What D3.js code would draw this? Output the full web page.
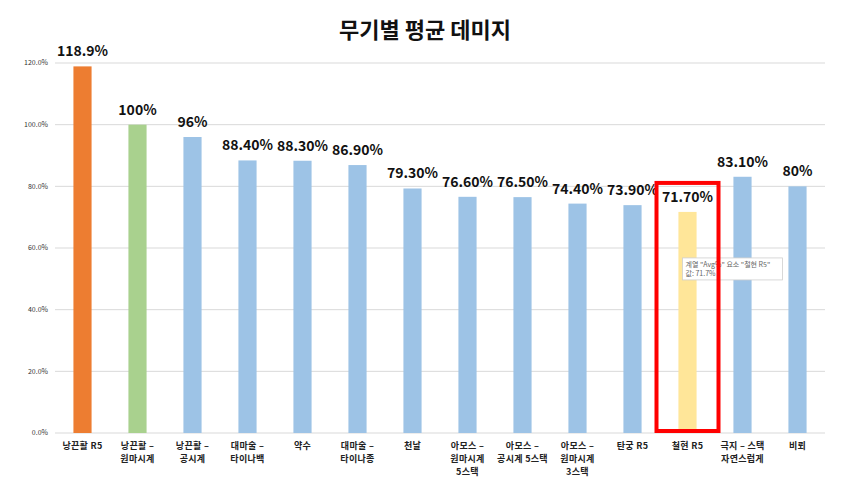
<!DOCTYPE html>
<html>
<head>
<meta charset="utf-8">
<script src="https://cdn.jsdelivr.net/npm/d3@7"></script>
<style>
  body { margin: 0; background: #fff; }
  svg { font-family: "Noto Sans CJK KR", "Noto Sans", sans-serif; }
</style>
</head>
<body>
<svg width="850" height="483"></svg>
<script>
// Data
const categories = [
    "낭끈활 R5", "낭끈활 –\n원마시계", "낭끈활 –\n공시계", "대마술 –\n타이나백", "약수",
    "대마술 –\n타이나종", "천날", "아모스 –\n원마시계\n5스택", "아모스 –\n공시계 5스택",
    "아모스 –\n원마시계\n3스택", "탄궁 R5", "철현 R5", "극지 – 스택\n자연스럽게", "비뢰"
];
const values = [118.9, 100, 96, 88.4, 88.3, 86.9, 79.3, 76.6, 76.5, 74.4, 73.9, 71.7, 83.1, 80];
const valueLabels = ["118.9%", "100%", "96%", "88.40%", "88.30%", "86.90%", "79.30%", "76.60%",
    "76.50%", "74.40%", "73.90%", "71.70%", "83.10%", "80%"];
const barColors = ["#ED7D31", "#A9D18E", "#9DC3E6", "#9DC3E6", "#9DC3E6", "#9DC3E6", "#9DC3E6",
    "#9DC3E6", "#9DC3E6", "#9DC3E6", "#9DC3E6", "#FFE699", "#9DC3E6", "#9DC3E6"];
const yTicks = [0, 20, 40, 60, 80, 100, 120];

const margin = { top: 63, right: 25, bottom: 50, left: 55 },
    width = 850 - margin.left - margin.right,
    height = 483 - margin.top - margin.bottom;

const svg = d3.select("svg");
const g = svg.append("g")
    .attr("transform", `translate(${margin.left},${margin.top})`);

// Scales
const x = d3.scaleBand()
    .domain(categories)
    .range([0, width])
    .paddingInner(0.67)
    .paddingOuter(0.335);

const y = d3.scaleLinear()
    .domain([0, 120])
    .range([height, 0]);

// Gridlines
g.selectAll(".grid")
    .data(yTicks)
    .join("line")
    .attr("x1", 0)
    .attr("x2", width)
    .attr("y1", d => y(d))
    .attr("y2", d => y(d))
    .attr("stroke", "#d9d9d9")
    .attr("stroke-width", 1);

// Y tick labels
g.selectAll(".ytick")
    .data(yTicks)
    .join("text")
    .attr("x", -7)
    .attr("y", d => y(d))
    .attr("dy", "0.35em")
    .attr("text-anchor", "end")
    .style("font-size", "7px")
    .style("fill", "#333")
    .text(d => d.toFixed(1) + "%");

// Bars
g.selectAll(".bar")
    .data(values)
    .join("rect")
    .attr("x", (d, i) => x(categories[i]))
    .attr("y", d => y(d))
    .attr("width", x.bandwidth())
    .attr("height", d => height - y(d))
    .attr("fill", (d, i) => barColors[i]);

// Value labels
g.selectAll(".vlabel")
    .data(values)
    .join("text")
    .attr("x", (d, i) => x(categories[i]) + x.bandwidth() / 2)
    .attr("y", d => y(d) - 10)
    .attr("text-anchor", "middle")
    .style("font-size", "14px")
    .style("font-weight", "bold")
    .style("fill", "#111")
    .text((d, i) => valueLabels[i]);

// Category labels, one text per line
const catLines = [];
categories.forEach(c => {
    c.split("\n").forEach((t, j) => catLines.push({ cat: c, line: t, j: j }));
});

g.selectAll(".cat")
    .data(catLines)
    .join("text")
    .attr("x", d => x(d.cat) + x.bandwidth() / 2)
    .attr("y", d => height + 16 + d.j * 13)
    .attr("text-anchor", "middle")
    .style("font-size", "9px")
    .style("letter-spacing", "0.3px")
    .style("font-weight", "bold")
    .style("fill", "#222")
    .text(d => d.line);

// Title
svg.append("text")
    .attr("x", 425)
    .attr("y", 38)
    .attr("text-anchor", "middle")
    .style("font-size", "22px")
    .style("font-weight", "bold")
    .style("fill", "#111")
    .text("무기별 평균 데미지");

// Tooltip on the highlighted bar
const hi = categories[11];
const tx = x(hi) + x.bandwidth() / 2 - 5;
const tip = g.append("g")
    .attr("transform", `translate(${tx},${y(71.7) + 46})`);
tip.append("rect")
    .attr("width", 100)
    .attr("height", 22)
    .attr("fill", "#fff")
    .attr("stroke", "#cfcfcf")
    .attr("stroke-width", 0.8);
tip.append("text")
    .attr("x", 3).attr("y", 9)
    .style("font-size", "7px").style("fill", "#666")
    .text('계열 "Avg%" 요소 "철현 R5"');
tip.append("text")
    .attr("x", 3).attr("y", 18)
    .style("font-size", "7px").style("fill", "#666")
    .text("값: 71.7%");

// Red highlight box
const bx = x(hi) + x.bandwidth() / 2;
g.append("rect")
    .attr("x", bx - 31)
    .attr("y", y(71.7) - 29)
    .attr("width", 62)
    .attr("height", height - y(71.7) + 27)
    .attr("fill", "none")
    .attr("stroke", "#ff0000")
    .attr("stroke-width", 4);
</script>
</body>
</html>
